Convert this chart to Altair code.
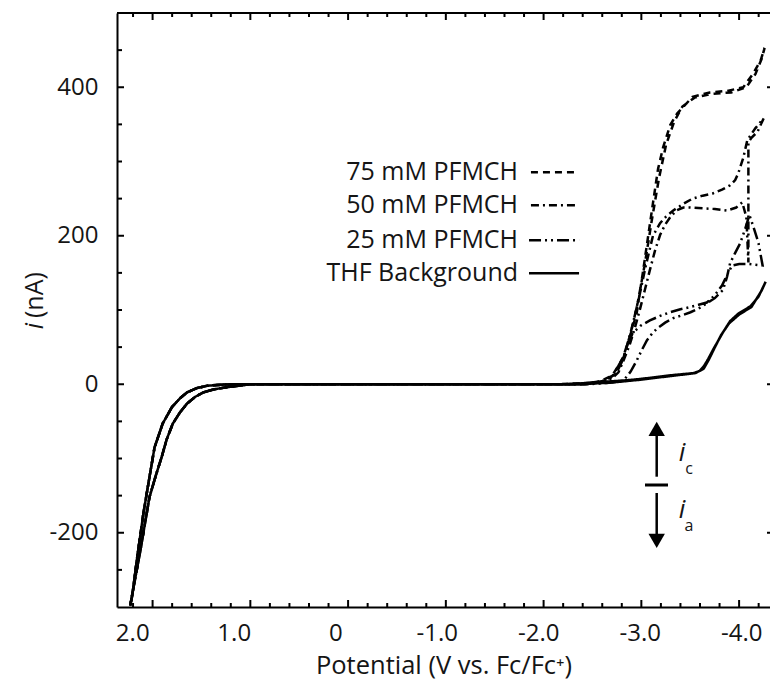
import altair as alt
import pandas as pd

# ---------------- data ----------------
names = ["75 mM PFMCH", "50 mM PFMCH", "25 mM PFMCH", "THF Background"]

# anodic (positive potential) branches shared by all traces
left_out_v = [2.02, 2.00, 1.95, 1.89, 1.83, 1.78, 1.70, 1.61, 1.53, 1.46, 1.36, 1.26, 1.10, 1.00]
left_out_i = [-298, -285, -232, -174, -125, -85, -53, -31, -19, -11, -5, -2, -0.5, 0]
left_in_v = [0.84, 1.07, 1.20, 1.30, 1.38, 1.46, 1.53, 1.60, 1.66, 1.71, 1.77, 1.83, 1.92, 2.02]
left_in_i = [0, -4, -7, -11, -17, -26, -38, -53, -74, -98, -124, -152, -224, -298]

# cathodic parts (forward scan then reverse scan)
pf75_v = [-2.20, -2.45, -2.61, -2.73, -2.84, -2.90, -2.97, -3.03, -3.08, -3.13, -3.18, -3.23, -3.30,
          -3.37, -3.52, -3.69, -3.86, -4.02, -4.12, -4.19, -4.23,
          -4.20, -4.14, -4.05, -3.90, -3.70, -3.54, -3.42, -3.34, -3.26, -3.19, -3.12, -3.05, -2.98,
          -2.91, -2.83, -2.73, -2.61, -2.40]
pf75_i = [0, 1, 3, 11, 36, 63, 96, 150, 197, 244, 290, 319, 349,
          365, 387, 393, 395, 400, 419, 436, 453,
          438, 418, 400, 393, 391, 386, 374, 354, 323, 278, 222, 162, 110,
          68, 34, 12, 4, 0]

pf50_v = [-2.20, -2.45, -2.62, -2.74, -2.85, -2.92, -2.99, -3.06, -3.13, -3.20, -3.26, -3.33, -3.43,
          -3.52, -3.62, -3.72, -3.81, -3.89, -3.94, -3.97, -4.02, -4.06, -4.14, -4.22,
          -4.16, -4.10, -4.07, -4.07, -4.05, -4.01, -3.95, -3.86, -3.74, -3.62, -3.50, -3.43, -3.36,
          -3.30, -3.25, -3.20, -3.15, -3.10, -3.05, -3.00, -2.95, -2.90, -2.84, -2.79, -2.72, -2.66, -2.45]
pf50_i = [0, 1, 3, 12, 40, 75, 115, 160, 200, 217, 226, 234, 243,
          250, 254, 257, 262, 268, 275, 284, 305, 329, 345, 358,
          340, 332, 326, 164, 225, 245, 238, 234, 236, 237, 238, 238, 234,
          225, 215, 201, 180, 154, 127, 100, 75, 53, 32, 16, 7, 3, 0]

pf25_v = [-2.20, -2.50, -2.70, -2.84, -2.91, -2.97, -3.02, -3.07, -3.12, -3.17, -3.25, -3.33, -3.42,
          -3.50, -3.58, -3.66, -3.74, -3.82, -3.86, -3.89, -3.94, -3.99, -4.04, -4.08, -4.12, -4.17, -4.21,
          -4.14, -4.07, -3.98, -3.91, -3.86, -3.81, -3.74, -3.66, -3.58, -3.50, -3.40, -3.30, -3.20,
          -3.10, -3.01, -2.93, -2.88, -2.83, -2.77, -2.68, -2.45]
pf25_i = [0, 0, 2, 5, 17, 32, 46, 59, 68, 75, 83, 89, 93,
          97, 102, 109, 116, 127, 145, 163, 177, 190, 210, 228, 212, 190, 160,
          161, 162, 162, 160, 147, 133, 120, 110, 107, 104, 101, 97, 92,
          86, 79, 69, 52, 32, 15, 5, 0]

thf_v = [-2.20, -2.40, -2.60, -2.84, -3.00, -3.30, -3.53, -3.59, -3.63, -3.67, -3.72, -3.77, -3.82,
         -3.89, -3.97, -4.09, -4.17, -4.24,
         -4.20, -4.10, -3.98, -3.88, -3.80, -3.73, -3.68, -3.63, -3.55, -3.30, -3.00, -2.70, -2.40]
thf_i = [0, 1, 3, 5, 7, 12, 15, 18, 24, 33, 46, 58, 70,
         85, 95, 105, 118, 138,
         126, 104, 94, 82, 66, 47, 33, 21, 15, 11, 6, 2, 0]

x_labels = [2.0, 1.0, 0.0, -1.0, -2.0, -3.0, -4.0]
y_labels = [-200, 0, 200, 400]

# legend rows (data units)
leg_y = [285.5, 241.1, 193.9, 149.5]

# ---------------- build tables ----------------
series = [(names[0], pf75_v, pf75_i), (names[1], pf50_v, pf50_i),
          (names[2], pf25_v, pf25_i), (names[3], thf_v, thf_i)]
rows = []
for name, cv, ci in series:
    vs = left_out_v + cv + left_in_v
    cs = left_out_i + ci + left_in_i
    for k, (v, c) in enumerate(zip(vs, cs)):
        rows.append({"series": name, "V": v, "I": c, "ord": k})
df = pd.DataFrame(rows)

leg = pd.DataFrame({"series": names, "ly": leg_y,
                    "tx": [-1.801] * 4,
                    "x1": [-1.928, -1.928, -1.909, -1.909],
                    "x2": [-2.372, -2.372, -2.402, -2.402]})

# axis tick marks (drawn inward)
tv = [1.992 - 0.1926 * k for k in range(33)]
xt_minor = pd.DataFrame({"t": [t for k, t in enumerate(tv) if k % 5 != 1]})
xt_major = pd.DataFrame({"t": [t for k, t in enumerate(tv) if k % 5 == 1]})
yt_minor = pd.DataFrame({"t": [v for v in range(-250, 500, 50) if v % 200 != 0]})
yt_major = pd.DataFrame({"t": y_labels})

W, H = 653, 594
FONT = "Open Sans"
TXT = "#151515"
xscale = alt.Scale(domain=[2.15, -4.283], nice=False, zero=False)
yscale = alt.Scale(domain=[-300, 500], nice=False, zero=False)
dash_scale = alt.Scale(domain=names, range=[[7, 5], [8, 4, 2, 4], [12, 4, 2, 4, 2, 4], [1, 0]])
width_scale = alt.Scale(domain=names, range=[2.5, 2.5, 2.5, 3.0])

one = pd.DataFrame({"a": [0]})

xaxis = alt.Axis(values=x_labels, ticks=False, tickSize=0, grid=False,
                 labelExpr="datum.value == 0 ? '0' : (datum.value < 0 ? '-' + format(-datum.value, '.1f') : format(datum.value, '.1f'))",
                 labelFont=FONT, labelFontSize=24, labelColor=TXT, labelPadding=14,
                 domainColor="black", domainWidth=2,
                 title="Potential (V vs. Fc/Fc⁺)", titleFont=FONT, titleFontSize=25.5,
                 titleFontWeight="normal", titleColor=TXT, titleY=66, titleBaseline="alphabetic")
yaxis = alt.Axis(values=y_labels, ticks=False, tickSize=0, grid=False,
                 labelExpr="datum.value < 0 ? '-' + format(-datum.value, 'd') : format(datum.value, 'd')",
                 labelFont=FONT, labelFontSize=24, labelColor=TXT, labelPadding=19,
                 domainColor="black", domainWidth=2, title="")


def X(field):
    return alt.X(field, type="quantitative", scale=xscale, axis=xaxis)


def Y(field):
    return alt.Y(field, type="quantitative", scale=yscale, axis=yaxis)


lines = alt.Chart(df).mark_line(color="black", clip=True).encode(
    x=X("V"), y=Y("I"),
    strokeDash=alt.StrokeDash("series:N", scale=dash_scale, legend=None),
    strokeWidth=alt.StrokeWidth("series:N", scale=width_scale, legend=None),
    order="ord:Q",
)

leg_lines = alt.Chart(leg).mark_rule(color="black").encode(
    x=X("x1"), x2="x2:Q", y=Y("ly"),
    strokeDash=alt.StrokeDash("series:N", scale=dash_scale, legend=None),
    strokeWidth=alt.StrokeWidth("series:N", scale=width_scale, legend=None),
)
leg_text = alt.Chart(leg).mark_text(align="right", baseline="middle", font=FONT,
                                    fontSize=25, color=TXT).encode(
    x=X("tx"), y=Y("ly"), text="series:N",
)

tk = dict(color="black", strokeWidth=2)
bx_min = alt.Chart(xt_minor).mark_rule(**tk).encode(x=X("t"), y=alt.value(H), y2=alt.value(H - 4))
bx_maj = alt.Chart(xt_major).mark_rule(**tk).encode(x=X("t"), y=alt.value(H), y2=alt.value(H - 7))
tx_min = alt.Chart(xt_minor).mark_rule(**tk).encode(x=X("t"), y=alt.value(0), y2=alt.value(4))
tx_maj = alt.Chart(xt_major).mark_rule(**tk).encode(x=X("t"), y=alt.value(0), y2=alt.value(7))
ly_min = alt.Chart(yt_minor).mark_rule(**tk).encode(y=Y("t"), x=alt.value(0), x2=alt.value(5))
ly_maj = alt.Chart(yt_major).mark_rule(**tk).encode(y=Y("t"), x=alt.value(0), x2=alt.value(7))
ry_maj = alt.Chart(yt_major).mark_rule(**tk).encode(y=Y("t"), x=alt.value(W - 3), x2=alt.value(W))
top_frame = alt.Chart(one).mark_rule(color="black", strokeWidth=2).encode(
    x=alt.value(0), x2=alt.value(W), y=alt.value(0))

# current-direction annotation
ax = 539.7
up_shaft = alt.Chart(one).mark_rule(color="black", strokeWidth=2.5).encode(
    x=alt.value(ax), y=alt.value(421), y2=alt.value(463.7))
dn_shaft = alt.Chart(one).mark_rule(color="black", strokeWidth=2.5).encode(
    x=alt.value(ax), y=alt.value(480), y2=alt.value(522))
bar = alt.Chart(one).mark_rule(color="black", strokeWidth=3).encode(
    x=alt.value(528), x2=alt.value(551), y=alt.value(472))
up_head = alt.Chart(one).mark_point(shape="triangle-up", filled=True, color="black",
                                    size=270, opacity=1).encode(x=alt.value(ax), y=alt.value(415.8))
dn_head = alt.Chart(one).mark_point(shape="triangle-down", filled=True, color="black",
                                    size=270, opacity=1).encode(x=alt.value(ax), y=alt.value(527.9))
ic_i = alt.Chart(one).mark_text(text="i", font=FONT, fontSize=26, fontStyle="italic",
                                color=TXT, baseline="middle").encode(x=alt.value(565), y=alt.value(440))
ic_c = alt.Chart(one).mark_text(text="c", font=FONT, fontSize=16,
                                color=TXT, baseline="middle").encode(x=alt.value(572), y=alt.value(456))
ia_i = alt.Chart(one).mark_text(text="i", font=FONT, fontSize=26, fontStyle="italic",
                                color=TXT, baseline="middle").encode(x=alt.value(565), y=alt.value(497))
ia_a = alt.Chart(one).mark_text(text="a", font=FONT, fontSize=16,
                                color=TXT, baseline="middle").encode(x=alt.value(572), y=alt.value(513))

# y-axis title with italic i
yt_i = alt.Chart(one).mark_text(text="i", font=FONT, fontSize=25, fontStyle="italic", angle=270,
                                color=TXT, baseline="middle", align="center").encode(
    x=alt.value(-82), y=alt.value(313))
yt_rest = alt.Chart(one).mark_text(text="(nA)", font=FONT, fontSize=25, angle=270,
                                   color=TXT, baseline="middle", align="left").encode(
    x=alt.value(-82), y=alt.value(305))

chart = alt.layer(
    lines, leg_lines, leg_text,
    bx_min, bx_maj, tx_min, tx_maj, ly_min, ly_maj, ry_maj, top_frame,
    up_shaft, dn_shaft, bar, up_head, dn_head, ic_i, ic_c, ia_i, ia_a,
    yt_i, yt_rest,
).properties(
    width=W, height=H,
    autosize=alt.AutoSizeParams(type="none"),
    padding={"left": 117, "top": 13, "right": 0, "bottom": 80},
    background="white",
).configure_view(stroke=None)

chart.save("out.html", embed_options={"renderer": "svg", "actions": False})
